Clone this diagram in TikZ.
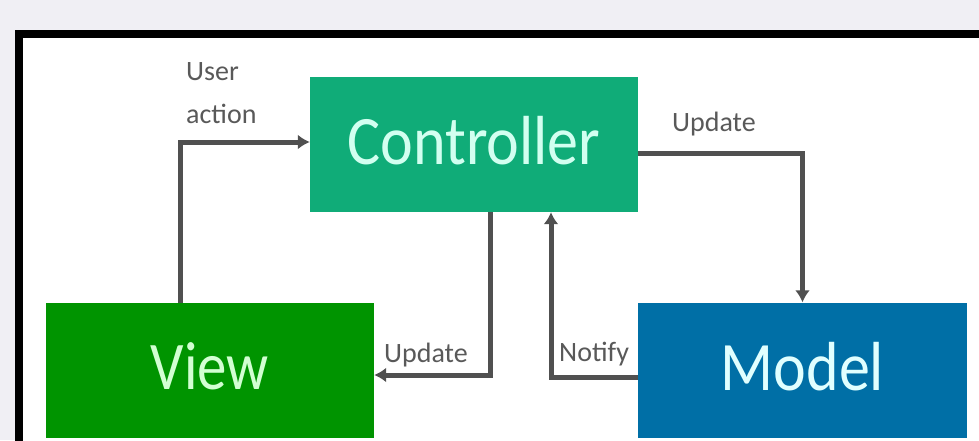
\documentclass[tikz,border=0pt]{standalone}
\usepackage{fontspec}
\setmainfont{Carlito}
\usetikzlibrary{arrows.meta}
\definecolor{bg}{HTML}{F0EFF4}
\definecolor{ctrlc}{HTML}{10AC78}
\definecolor{viewc}{HTML}{009400}
\definecolor{modelc}{HTML}{006FA6}
\definecolor{arr}{HTML}{505050}
\definecolor{lbl}{HTML}{595959}
\definecolor{ctxt}{HTML}{D2FFF0}
\definecolor{vtxt}{HTML}{D2FFD2}
\definecolor{mtxt}{HTML}{E0FFFF}
\tikzset{
  box/.style={rectangle, inner sep=0pt, minimum width=328pt, minimum height=135pt, text depth=8pt, font=\fontsize{62}{62}\selectfont},
  conn/.style={draw=arr, line width=5pt, -{Latex[length=12pt,width=15pt]}},
  lab/.style={text=lbl, font=\fontsize{28}{43}\selectfont, inner sep=0pt}
}
\begin{document}
\begin{tikzpicture}[x=1pt,y=-1pt]
\useasboundingbox (0,0) rectangle (979,440);
\clip (0,0) rectangle (979,440);
\fill[bg] (0,0) rectangle (979,440);
\draw[line width=8pt, fill=white] (19,34) rectangle (1000,470);
\node[box, fill=ctrlc, text=ctxt] (ctrl) at (474,144.5) {\scalebox{1}[1.12]{Controller}};
\node[box, fill=viewc, text=vtxt] (view) at (210,370.5) {\scalebox{0.95}[1.1]{View}};
\node[box, fill=modelc, text=mtxt, minimum width=329pt] (model) at (802.5,370) {\scalebox{1}[1.12]{Model}};
\draw[conn] ([xshift=-30pt]view.north) |- ([yshift=2.5pt]ctrl.west);
\draw[conn] ([yshift=-8.5pt]ctrl.east) -| (model.north);
\draw[conn] ([xshift=16pt]ctrl.south) |- ([yshift=-4.5pt]view.east);
\draw[conn] ([yshift=-7pt]model.west) -| ([xshift=77pt]ctrl.south);
\node[lab, anchor=north west, align=left] (ua) at (186,62) {User\\action};
\node[lab, anchor=base west] (up1) at (672,131) {Update};
\node[lab, anchor=base west] (up2) at (384,362) {Update};
\node[lab, anchor=base west] (nt) at (559,361) {Notify};
\end{tikzpicture}
\end{document}
